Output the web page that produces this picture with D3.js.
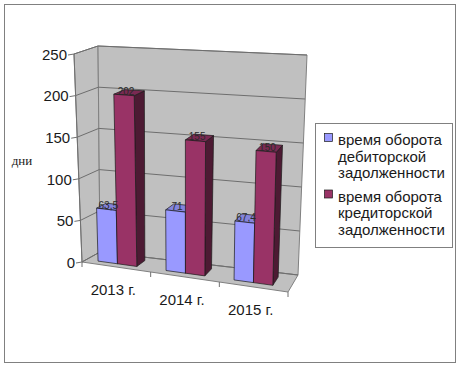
<!DOCTYPE html>
<html><head><meta charset="utf-8">
<script src="https://cdn.jsdelivr.net/npm/d3@7"></script>
<style>body{margin:0;background:#fff}</style>
</head><body><svg id="c" width="460" height="367"></svg>
<script>
// ---- data ----
const categories = ["2013 г.", "2014 г.", "2015 г."];
const receivableDays = [63.5, 71, 67.4];
const payableDays = [202, 155, 150];
const legendLines = [
  ["время оборота", "дебиторской", "задолженности"],
  ["время оборота", "кредиторской", "задолженности"]
];
const yTicks = [0, 50, 100, 150, 200, 250];
const yTitle = "дни";

const series = [receivableDays, payableDays];
const colors = [
  {front:"#9999ff", side:"#6b6bb3", top:"#8484dc"},
  {front:"#993366", side:"#4d1a33", top:"#7a2952"}
];

const svg = d3.select("#c");
const font = "'Liberation Sans', Arial, sans-serif";
const ruLocale = d3.formatLocale({decimal:",", thousands:" ", grouping:[3], currency:["",""]});
const fmt = ruLocale.format(".1~f");

// outer border
svg.append("rect").attr("x",4.5).attr("y",4.5).attr("width",451).attr("height",358)
  .attr("fill","#fff").attr("stroke","#808080");

// 3D box corners (screen) and trilinear projection
const C = {
  fbl:[82,262], ftl:[74,54], fbr:[288,292], ftr:[294,68],
  bbl:[100,252], btl:[98,46], bbr:[298,275], btr:[307,55]
};
function lerp(a,b,t){return [a[0]+(b[0]-a[0])*t, a[1]+(b[1]-a[1])*t];}
function P(u,v,w){
  const fb = lerp(C.fbl,C.fbr,u), ft = lerp(C.ftl,C.ftr,u);
  const bb = lerp(C.bbl,C.bbr,u), bt = lerp(C.btl,C.btr,u);
  return lerp(lerp(fb,ft,v), lerp(bb,bt,v), w);
}
const poly = pts => "M" + pts.map(p => p[0].toFixed(2)+","+p[1].toFixed(2)).join("L") + "Z";

const x = d3.scaleBand().domain(categories).range([0,1]);
const sub = d3.scaleBand().domain(d3.range(series.length)).range([0.17,0.74]);
const y = d3.scaleLinear().domain([0,250]).range([0,1]);
const w0 = 0.25, w1 = 0.75;

const g = svg.append("g");
// walls & floor
const wallFill = "#c0c0c0", edge = "#808080";
g.append("path").attr("d", poly([P(0,0,0),P(0,1,0),P(0,1,1),P(0,0,1)])).attr("fill",wallFill).attr("stroke",edge);
g.append("path").attr("d", poly([P(0,0,1),P(0,1,1),P(1,1,1),P(1,0,1)])).attr("fill",wallFill).attr("stroke",edge);
g.append("path").attr("d", poly([P(0,0,0),P(0,0,1),P(1,0,1),P(1,0,0)])).attr("fill",wallFill).attr("stroke",edge);

// gridlines
yTicks.forEach(t => {
  const v = y(t);
  const a = P(0,v,0), b = P(0,v,1), c = P(1,v,1);
  g.append("path").attr("d", `M${a}L${b}L${c}`).attr("fill","none").attr("stroke","#6e6e6e").attr("stroke-width",1);
});

// y axis line, ticks, labels
const ax0 = P(0,0,0), ax1 = P(0,1,0);
g.append("line").attr("x1",ax0[0]).attr("y1",ax0[1]).attr("x2",ax1[0]).attr("y2",ax1[1]).attr("stroke","#707070");
yTicks.forEach(t => {
  const p = P(0,y(t),0);
  g.append("line").attr("x1",p[0]-6).attr("y1",p[1]+1).attr("x2",p[0]).attr("y2",p[1]).attr("stroke","#707070");
  g.append("text").attr("x",p[0]-7).attr("y",p[1]+0.5).attr("dy","0.35em").attr("text-anchor","end")
    .attr("font-family",font).attr("font-size",15).attr("fill","#1a1a1a").text(t);
});
svg.append("text").attr("x",22).attr("y",165).attr("text-anchor","middle")
  .attr("font-family","'Liberation Serif','Times New Roman',serif").attr("font-size",13).attr("fill","#1a1a1a").text(yTitle);

// x ticks & labels
d3.range(categories.length+1).forEach(i => {
  const p = P(i/categories.length,0,0);
  g.append("line").attr("x1",p[0]).attr("y1",p[1]).attr("x2",p[0]).attr("y2",p[1]+5).attr("stroke","#707070");
});
categories.forEach(cat => {
  const p = P(x(cat)+x.bandwidth()/2,0,0);
  g.append("text").attr("x",p[0]-3).attr("y",p[1]+28).attr("text-anchor","middle")
    .attr("font-family",font).attr("font-size",15).attr("fill","#1a1a1a").text(cat);
});

// bars
const labels = [];
categories.forEach((cat,ci) => {
  series.forEach((vals,si) => {
    const u0 = x(cat) + x.bandwidth()*sub(si);
    const u1 = u0 + x.bandwidth()*sub.bandwidth();
    const v = y(vals[ci]);
    const col = colors[si];
    const st = {stroke:"#1a1a1a", "stroke-width":0.7, "stroke-linejoin":"round"};
    const side = g.append("path").attr("d", poly([P(u1,0,w0),P(u1,0,w1),P(u1,v,w1),P(u1,v,w0)])).attr("fill",col.side);
    const top = g.append("path").attr("d", poly([P(u0,v,w0),P(u1,v,w0),P(u1,v,w1),P(u0,v,w1)])).attr("fill",col.top);
    const front = g.append("path").attr("d", poly([P(u0,0,w0),P(u1,0,w0),P(u1,v,w0),P(u0,v,w0)])).attr("fill",col.front);
    [side,top,front].forEach(s => Object.entries(st).forEach(([k,val]) => s.attr(k,val)));
    const lp = P((u0+u1)/2, v, 0.35);
    labels.push({p:lp, t:fmt(vals[ci])});
  });
});
labels.forEach(l => {
  svg.append("text").attr("x",l.p[0]).attr("y",l.p[1]-3).attr("dy","0.35em").attr("text-anchor","middle")
    .attr("font-family",font).attr("font-size",10).attr("fill","#2a2a2a").text(l.t);
});

// legend
const lg = svg.append("g");
lg.append("rect").attr("x",315.5).attr("y",123.5).attr("width",137).attr("height",124)
  .attr("fill","#fff").attr("stroke","#808080");
legendLines.forEach((lines,si) => {
  const base = 145 + si*56.5;
  lg.append("rect").attr("x",324.5).attr("y",base-11.5).attr("width",8).attr("height",8)
    .attr("fill",colors[si].front).attr("stroke","#1a1a1a").attr("stroke-width",0.7);
  lines.forEach((ln,li) => {
    lg.append("text").attr("x",338).attr("y",base + li*16.5)
      .attr("font-family",font).attr("font-size",15).attr("fill","#1a1a1a").text(ln);
  });
});
</script>
</body></html>
